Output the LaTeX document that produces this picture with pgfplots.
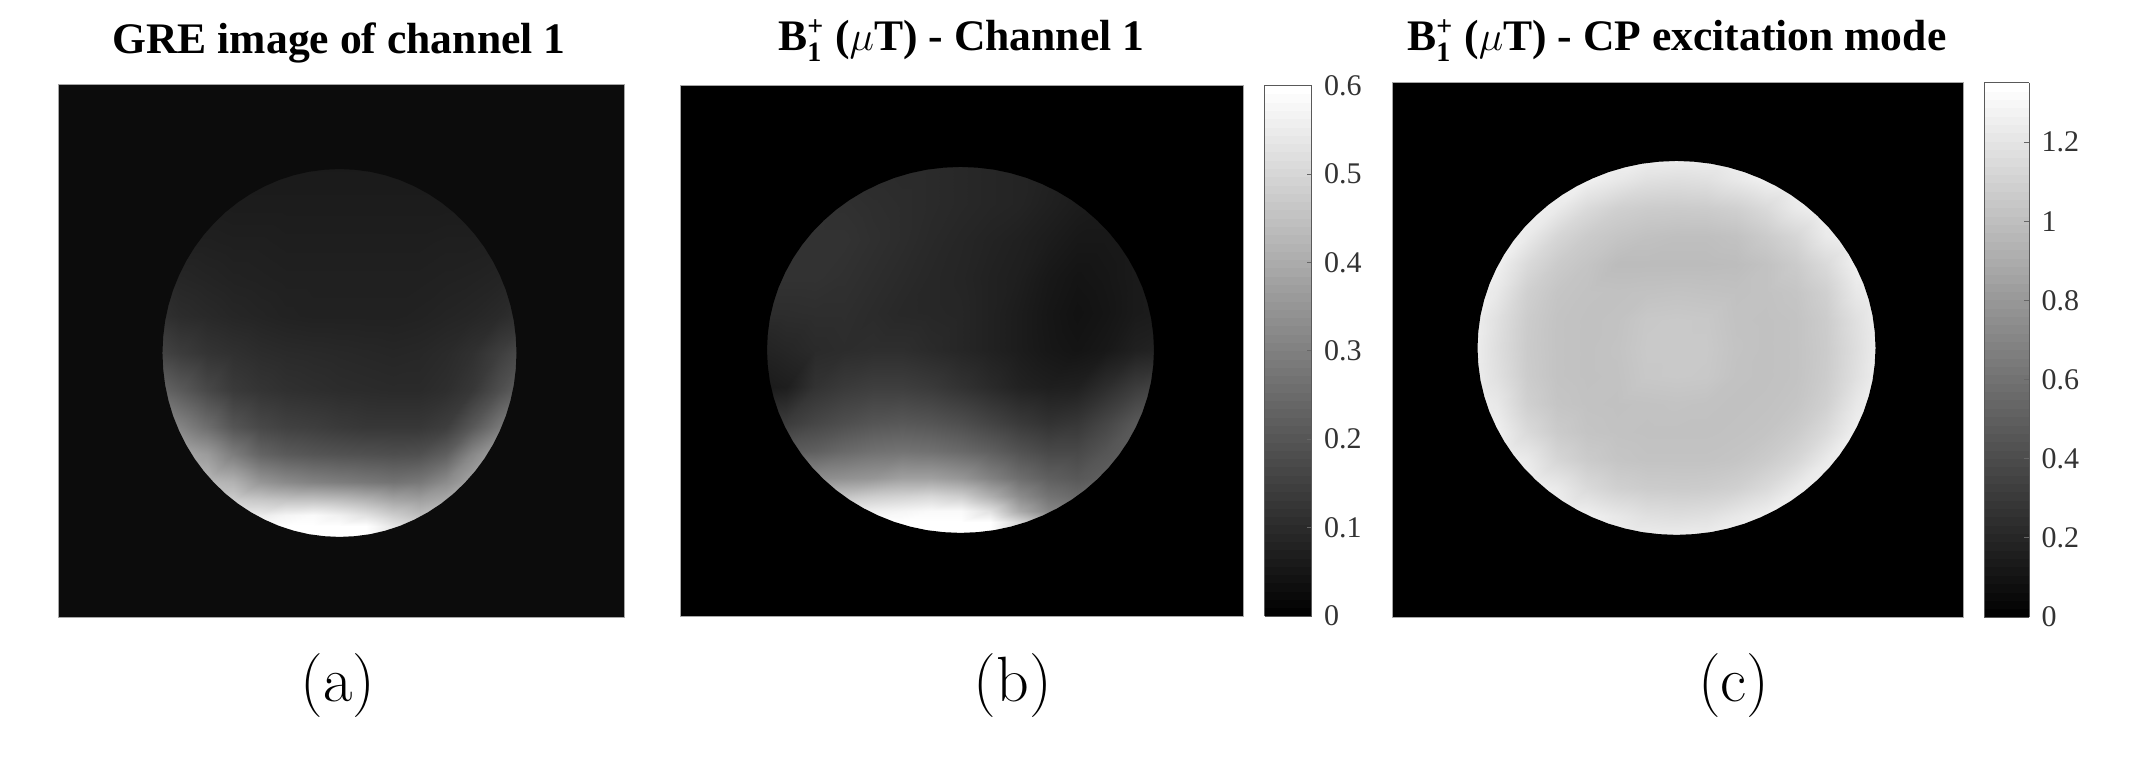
\documentclass[border=0pt]{standalone}
\usepackage{pgfplots}
\usepackage{pgfplotstable}
\usepackage{fontspec}
\pgfplotsset{compat=1.18}
\newfontfamily\cam{Liberation Serif}
\newcommand{\tb}[1]{\hbox{\fontsize{14}{14}\cam\bfseries #1}}
\pgfplotstableread[row sep=\\]{
x y\\
2 0\\ 2 2\\ -2 2\\ -2 -2\\ 2 -2\\ 2 0\\
1 0\\ .996 -.087\\ .985 -.174\\ .966 -.259\\ .94 -.342\\ .906 -.423\\ .866 -.5\\ .819 -.574\\ .766 -.643\\ .707 -.707\\ .643 -.766\\ .574 -.819\\ .5 -.866\\ .423 -.906\\ .342 -.94\\ .259 -.966\\ .174 -.985\\ .087 -.996\\
0 -1\\ -.087 -.996\\ -.174 -.985\\ -.259 -.966\\ -.342 -.94\\ -.423 -.906\\ -.5 -.866\\ -.574 -.819\\ -.643 -.766\\ -.707 -.707\\ -.766 -.643\\ -.819 -.574\\ -.866 -.5\\ -.906 -.423\\ -.94 -.342\\ -.966 -.259\\ -.985 -.174\\ -.996 -.087\\
-1 0\\ -.996 .087\\ -.985 .174\\ -.966 .259\\ -.94 .342\\ -.906 .423\\ -.866 .5\\ -.819 .574\\ -.766 .643\\ -.707 .707\\ -.643 .766\\ -.574 .819\\ -.5 .866\\ -.423 .906\\ -.342 .94\\ -.259 .966\\ -.174 .985\\ -.087 .996\\
0 1\\ .087 .996\\ .174 .985\\ .259 .966\\ .342 .94\\ .423 .906\\ .5 .866\\ .574 .819\\ .643 .766\\ .707 .707\\ .766 .643\\ .819 .574\\ .866 .5\\ .906 .423\\ .94 .342\\ .966 .259\\ .985 .174\\ .996 .087\\
1 0\\ 2 0\\
}\masktab
\pgfplotstableread[row sep=\\]{
x y v\\
-1.05 1.05 26\\ -.9 1.05 26\\ -.75 1.05 26\\ -.6 1.05 26\\ -.45 1.05 26\\ -.3 1.05 26\\ -.15 1.05 26\\ 0 1.05 26\\ .15 1.05 26\\ .3 1.05 26\\ .45 1.05 26\\ .6 1.05 26\\ .75 1.05 26\\ .9 1.05 26\\ 1.05 1.05 26\\
-1.05 .8 28\\ -.9 .8 28\\ -.75 .8 28\\ -.6 .8 28\\ -.45 .8 28\\ -.3 .8 28\\ -.15 .8 28\\ 0 .8 28\\ .15 .8 28\\ .3 .8 28\\ .45 .8 28\\ .6 .8 28\\ .75 .8 28\\ .9 .8 28\\ 1.05 .8 28\\
-1.05 .6 32\\ -.9 .6 32\\ -.75 .6 32\\ -.6 .6 31\\ -.45 .6 31\\ -.3 .6 30\\ -.15 .6 30\\ 0 .6 30\\ .15 .6 30\\ .3 .6 30\\ .45 .6 30\\ .6 .6 31\\ .75 .6 31\\ .9 .6 32\\ 1.05 .6 32\\
-1.05 .4 40\\ -.9 .4 38\\ -.75 .4 36\\ -.6 .4 34\\ -.45 .4 33\\ -.3 .4 32\\ -.15 .4 32\\ 0 .4 32\\ .15 .4 32\\ .3 .4 32\\ .45 .4 32\\ .6 .4 33\\ .75 .4 34\\ .9 .4 36\\ 1.05 .4 40\\
-1.05 .2 50\\ -.9 .2 44\\ -.75 .2 41\\ -.6 .2 38\\ -.45 .2 36\\ -.3 .2 34\\ -.15 .2 33\\ 0 .2 33\\ .15 .2 33\\ .3 .2 33\\ .45 .2 34\\ .6 .2 36\\ .75 .2 38\\ .9 .2 42\\ 1.05 .2 50\\
-1.05 0 70\\ -.9 0 60\\ -.75 0 52\\ -.6 0 48\\ -.45 0 44\\ -.3 0 42\\ -.15 0 41\\ 0 0 40\\ .15 0 39\\ .3 0 38\\ .45 0 39\\ .6 0 42\\ .75 0 48\\ .9 0 62\\ 1.05 0 78\\
-1.05 -.2 105\\ -.9 -.2 90\\ -.75 -.2 72\\ -.6 -.2 58\\ -.45 -.2 52\\ -.3 -.2 48\\ -.15 -.2 46\\ 0 -.2 44\\ .15 -.2 43\\ .3 -.2 42\\ .45 -.2 42\\ .6 -.2 46\\ .75 -.2 55\\ .9 -.2 78\\ 1.05 -.2 100\\
-1.05 -.4 150\\ -.9 -.4 132\\ -.75 -.4 110\\ -.6 -.4 85\\ -.45 -.4 72\\ -.3 -.4 65\\ -.15 -.4 62\\ 0 -.4 58\\ .15 -.4 55\\ .3 -.4 55\\ .45 -.4 55\\ .6 -.4 62\\ .75 -.4 88\\ .9 -.4 120\\ 1.05 -.4 145\\
-1.05 -.55 175\\ -.9 -.55 170\\ -.75 -.55 155\\ -.6 -.55 125\\ -.45 -.55 100\\ -.3 -.55 90\\ -.15 -.55 85\\ 0 -.55 82\\ .15 -.55 80\\ .3 -.55 78\\ .45 -.55 80\\ .6 -.55 95\\ .75 -.55 135\\ .9 -.55 165\\ 1.05 -.55 170\\
-1.05 -.7 190\\ -.9 -.7 190\\ -.75 -.7 185\\ -.6 -.7 178\\ -.45 -.7 150\\ -.3 -.7 138\\ -.15 -.7 130\\ 0 -.7 125\\ .15 -.7 120\\ .3 -.7 115\\ .45 -.7 120\\ .6 -.7 140\\ .75 -.7 165\\ .9 -.7 175\\ 1.05 -.7 175\\
-1.05 -.8 210\\ -.9 -.8 210\\ -.75 -.8 205\\ -.6 -.8 205\\ -.45 -.8 200\\ -.3 -.8 195\\ -.15 -.8 195\\ 0 -.8 190\\ .15 -.8 180\\ .3 -.8 165\\ .45 -.8 160\\ .6 -.8 170\\ .75 -.8 180\\ .9 -.8 185\\ 1.05 -.8 185\\
-1.05 -.88 235\\ -.9 -.88 235\\ -.75 -.88 235\\ -.6 -.88 235\\ -.45 -.88 235\\ -.3 -.88 245\\ -.15 -.88 250\\ 0 -.88 240\\ .15 -.88 225\\ .3 -.88 205\\ .45 -.88 190\\ .6 -.88 190\\ .75 -.88 190\\ .9 -.88 190\\ 1.05 -.88 190\\
-1.05 -.94 250\\ -.9 -.94 250\\ -.75 -.94 250\\ -.6 -.94 250\\ -.45 -.94 250\\ -.3 -.94 255\\ -.15 -.94 255\\ 0 -.94 255\\ .15 -.94 255\\ .3 -.94 230\\ .45 -.94 200\\ .6 -.94 200\\ .75 -.94 200\\ .9 -.94 200\\ 1.05 -.94 200\\
-1.05 -1 255\\ -.9 -1 255\\ -.75 -1 255\\ -.6 -1 255\\ -.45 -1 255\\ -.3 -1 255\\ -.15 -1 255\\ 0 -1 255\\ .15 -1 255\\ .3 -1 240\\ .45 -1 215\\ .6 -1 215\\ .75 -1 215\\ .9 -1 215\\ 1.05 -1 215\\
-1.05 -1.05 255\\ -.9 -1.05 255\\ -.75 -1.05 255\\ -.6 -1.05 255\\ -.45 -1.05 255\\ -.3 -1.05 255\\ -.15 -1.05 255\\ 0 -1.05 255\\ .15 -1.05 255\\ .3 -1.05 240\\ .45 -1.05 215\\ .6 -1.05 215\\ .75 -1.05 215\\ .9 -1.05 215\\ 1.05 -1.05 215\\
}\gridA
\pgfplotstableread[row sep=\\]{
x y v\\
-1.05 1.05 .099\\ -.9 1.05 .099\\ -.75 1.05 .099\\ -.6 1.05 .099\\ -.45 1.05 .099\\ -.3 1.05 .099\\ -.15 1.05 .099\\ 0 1.05 .094\\ .15 1.05 .089\\ .3 1.05 .085\\ .45 1.05 .08\\ .6 1.05 .071\\ .75 1.05 .066\\ .9 1.05 .061\\ 1.05 1.05 .061\\
-1.05 .8 .118\\ -.9 .8 .118\\ -.75 .8 .118\\ -.6 .8 .113\\ -.45 .8 .108\\ -.3 .8 .104\\ -.15 .8 .099\\ 0 .8 .094\\ .15 .8 .089\\ .3 .8 .085\\ .45 .8 .075\\ .6 .8 .066\\ .75 .8 .061\\ .9 .8 .061\\ 1.05 .8 .061\\
-1.05 .6 .118\\ -.9 .6 .118\\ -.75 .6 .118\\ -.6 .6 .118\\ -.45 .6 .111\\ -.3 .6 .104\\ -.15 .6 .096\\ 0 .6 .089\\ .15 .6 .082\\ .3 .6 .075\\ .45 .6 .066\\ .6 .6 .056\\ .75 .6 .056\\ .9 .6 .061\\ 1.05 .6 .066\\
-1.05 .4 .118\\ -.9 .4 .118\\ -.75 .4 .118\\ -.6 .4 .113\\ -.45 .4 .106\\ -.3 .4 .099\\ -.15 .4 .092\\ 0 .4 .087\\ .15 .4 .078\\ .3 .4 .071\\ .45 .4 .056\\ .6 .4 .047\\ .75 .4 .052\\ .9 .4 .061\\ 1.05 .4 .066\\
-1.05 .2 .106\\ -.9 .2 .106\\ -.75 .2 .108\\ -.6 .2 .108\\ -.45 .2 .101\\ -.3 .2 .094\\ -.15 .2 .092\\ 0 .2 .089\\ .15 .2 .078\\ .3 .2 .066\\ .45 .2 .052\\ .6 .2 .042\\ .75 .2 .049\\ .9 .2 .061\\ 1.05 .2 .066\\
-1.05 0 .08\\ -.9 0 .089\\ -.75 0 .099\\ -.6 0 .104\\ -.45 0 .108\\ -.3 0 .108\\ -.15 0 .099\\ 0 0 .089\\ .15 0 .078\\ .3 0 .066\\ .45 0 .054\\ .6 0 .047\\ .75 0 .056\\ .9 0 .075\\ 1.05 0 .085\\
-1.05 -.2 .059\\ -.9 -.2 .07\\ -.75 -.2 .118\\ -.6 -.2 .136\\ -.45 -.2 .146\\ -.3 -.2 .146\\ -.15 -.2 .136\\ 0 -.2 .118\\ .15 -.2 .099\\ .3 -.2 .08\\ .45 -.2 .071\\ .6 -.2 .075\\ .75 -.2 .106\\ .9 -.2 .141\\ 1.05 -.2 .165\\
-1.05 -.4 .129\\ -.9 -.4 .14\\ -.75 -.4 .165\\ -.6 -.4 .184\\ -.45 -.4 .2\\ -.3 -.4 .207\\ -.15 -.4 .2\\ 0 -.4 .184\\ .15 -.4 .16\\ .3 -.4 .136\\ .45 -.4 .118\\ .6 -.4 .129\\ .75 -.4 .165\\ .9 -.4 .207\\ 1.05 -.4 .224\\
-1.05 -.55 .2\\ -.9 -.55 .21\\ -.75 -.55 .224\\ -.6 -.55 .247\\ -.45 -.55 .264\\ -.3 -.55 .271\\ -.15 -.55 .264\\ 0 -.55 .247\\ .15 -.55 .224\\ .3 -.55 .193\\ .45 -.55 .169\\ .6 -.55 .169\\ .75 -.55 .2\\ .9 -.55 .224\\ 1.05 -.55 .235\\
-1.05 -.7 .32\\ -.9 -.7 .33\\ -.75 -.7 .33\\ -.6 -.7 .341\\ -.45 -.7 .353\\ -.3 -.7 .376\\ -.15 -.7 .376\\ 0 -.7 .353\\ .15 -.7 .306\\ .3 -.7 .259\\ .45 -.7 .224\\ .6 -.7 .207\\ .75 -.7 .224\\ .9 -.7 .24\\ 1.05 -.7 .25\\
-1.05 -.8 .45\\ -.9 -.8 .45\\ -.75 -.8 .45\\ -.6 -.8 .459\\ -.45 -.8 .482\\ -.3 -.8 .494\\ -.15 -.8 .506\\ 0 -.8 .482\\ .15 -.8 .412\\ .3 -.8 .329\\ .45 -.8 .271\\ .6 -.8 .247\\ .75 -.8 .25\\ .9 -.8 .26\\ 1.05 -.8 .26\\
-1.05 -.88 .55\\ -.9 -.88 .55\\ -.75 -.88 .55\\ -.6 -.88 .55\\ -.45 -.88 .565\\ -.3 -.88 .576\\ -.15 -.88 .588\\ 0 -.88 .588\\ .15 -.88 .529\\ .3 -.88 .4\\ .45 -.88 .318\\ .6 -.88 .28\\ .75 -.88 .28\\ .9 -.88 .28\\ 1.05 -.88 .28\\
-1.05 -.94 .6\\ -.9 -.94 .6\\ -.75 -.94 .6\\ -.6 -.94 .6\\ -.45 -.94 .6\\ -.3 -.94 .6\\ -.15 -.94 .6\\ 0 -.94 .6\\ .15 -.94 .6\\ .3 -.94 .506\\ .45 -.94 .4\\ .6 -.94 .33\\ .75 -.94 .33\\ .9 -.94 .33\\ 1.05 -.94 .33\\
-1.05 -1 .6\\ -.9 -1 .6\\ -.75 -1 .6\\ -.6 -1 .6\\ -.45 -1 .6\\ -.3 -1 .6\\ -.15 -1 .6\\ 0 -1 .6\\ .15 -1 .6\\ .3 -1 .565\\ .45 -1 .45\\ .6 -1 .38\\ .75 -1 .38\\ .9 -1 .38\\ 1.05 -1 .38\\
-1.05 -1.05 .6\\ -.9 -1.05 .6\\ -.75 -1.05 .6\\ -.6 -1.05 .6\\ -.45 -1.05 .6\\ -.3 -1.05 .6\\ -.15 -1.05 .6\\ 0 -1.05 .6\\ .15 -1.05 .6\\ .3 -1.05 .565\\ .45 -1.05 .45\\ .6 -1.05 .38\\ .75 -1.05 .38\\ .9 -1.05 .38\\ 1.05 -1.05 .38\\
}\gridB
\pgfplotstableread[row sep=\\]{
x y v\\
-1.05 1.05 1.281\\ -.9 1.05 1.281\\ -.75 1.05 1.281\\ -.6 1.05 1.281\\ -.45 1.05 1.281\\ -.3 1.05 1.281\\ -.15 1.05 1.281\\ 0 1.05 1.281\\ .15 1.05 1.281\\ .3 1.05 1.281\\ .45 1.05 1.281\\ .6 1.05 1.281\\ .75 1.05 1.281\\ .9 1.05 1.281\\ 1.05 1.05 1.281\\
-1.05 .9 1.281\\ -.9 .9 1.281\\ -.75 .9 1.281\\ -.6 .9 1.281\\ -.45 .9 1.271\\ -.3 .9 1.228\\ -.15 .9 1.186\\ 0 .9 1.175\\ .15 .9 1.186\\ .3 .9 1.228\\ .45 .9 1.271\\ .6 .9 1.281\\ .75 .9 1.281\\ .9 .9 1.281\\ 1.05 .9 1.281\\
-1.05 .75 1.281\\ -.9 .75 1.281\\ -.75 .75 1.281\\ -.6 .75 1.239\\ -.45 .75 1.154\\ -.3 .75 1.101\\ -.15 .75 1.08\\ 0 .75 1.075\\ .15 .75 1.08\\ .3 .75 1.101\\ .45 .75 1.154\\ .6 .75 1.239\\ .75 .75 1.281\\ .9 .75 1.281\\ 1.05 .75 1.281\\
-1.05 .6 1.281\\ -.9 .6 1.281\\ -.75 .6 1.239\\ -.6 .6 1.133\\ -.45 .6 1.075\\ -.3 .6 1.043\\ -.15 .6 1.022\\ 0 .6 1.012\\ .15 .6 1.012\\ .3 .6 1.027\\ .45 .6 1.075\\ .6 .6 1.133\\ .75 .6 1.239\\ .9 .6 1.281\\ 1.05 .6 1.281\\
-1.05 .45 1.281\\ -.9 .45 1.271\\ -.75 .45 1.154\\ -.6 .45 1.075\\ -.45 .45 1.038\\ -.3 .45 .995\\ -.15 .45 .995\\ 0 .45 .995\\ .15 .45 .995\\ .3 .45 1.0\\ .45 .45 1.027\\ .6 .45 1.075\\ .75 .45 1.154\\ .9 .45 1.271\\ 1.05 .45 1.281\\
-1.05 .3 1.281\\ -.9 .3 1.228\\ -.75 .3 1.101\\ -.6 .3 1.043\\ -.45 .3 1.027\\ -.3 .3 1.022\\ -.15 .3 1.027\\ 0 .3 1.032\\ .15 .3 1.027\\ .3 .3 1.022\\ .45 .3 1.027\\ .6 .3 1.043\\ .75 .3 1.101\\ .9 .3 1.228\\ 1.05 .3 1.281\\
-1.05 .15 1.281\\ -.9 .15 1.186\\ -.75 .15 1.08\\ -.6 .15 1.032\\ -.45 .15 1.022\\ -.3 .15 1.027\\ -.15 .15 1.059\\ 0 .15 1.064\\ .15 .15 1.059\\ .3 .15 1.027\\ .45 .15 1.022\\ .6 .15 1.032\\ .75 .15 1.08\\ .9 .15 1.186\\ 1.05 .15 1.281\\
-1.05 0 1.281\\ -.9 0 1.175\\ -.75 0 1.075\\ -.6 0 1.032\\ -.45 0 1.022\\ -.3 0 1.032\\ -.15 0 1.064\\ 0 0 1.064\\ .15 0 1.064\\ .3 0 1.032\\ .45 0 1.022\\ .6 0 1.032\\ .75 0 1.075\\ .9 0 1.175\\ 1.05 0 1.281\\
-1.05 -.15 1.281\\ -.9 -.15 1.186\\ -.75 -.15 1.08\\ -.6 -.15 1.032\\ -.45 -.15 1.022\\ -.3 -.15 1.027\\ -.15 -.15 1.059\\ 0 -.15 1.064\\ .15 -.15 1.059\\ .3 -.15 1.027\\ .45 -.15 1.022\\ .6 -.15 1.032\\ .75 -.15 1.08\\ .9 -.15 1.186\\ 1.05 -.15 1.281\\
-1.05 -.3 1.281\\ -.9 -.3 1.228\\ -.75 -.3 1.101\\ -.6 -.3 1.043\\ -.45 -.3 1.027\\ -.3 -.3 1.022\\ -.15 -.3 1.027\\ 0 -.3 1.032\\ .15 -.3 1.027\\ .3 -.3 1.022\\ .45 -.3 1.027\\ .6 -.3 1.043\\ .75 -.3 1.101\\ .9 -.3 1.228\\ 1.05 -.3 1.281\\
-1.05 -.45 1.281\\ -.9 -.45 1.271\\ -.75 -.45 1.154\\ -.6 -.45 1.075\\ -.45 -.45 1.038\\ -.3 -.45 1.027\\ -.15 -.45 1.022\\ 0 -.45 1.022\\ .15 -.45 1.022\\ .3 -.45 1.027\\ .45 -.45 1.038\\ .6 -.45 1.075\\ .75 -.45 1.154\\ .9 -.45 1.271\\ 1.05 -.45 1.281\\
-1.05 -.6 1.281\\ -.9 -.6 1.281\\ -.75 -.6 1.239\\ -.6 -.6 1.133\\ -.45 -.6 1.075\\ -.3 -.6 1.043\\ -.15 -.6 1.032\\ 0 -.6 1.032\\ .15 -.6 1.032\\ .3 -.6 1.043\\ .45 -.6 1.075\\ .6 -.6 1.133\\ .75 -.6 1.239\\ .9 -.6 1.281\\ 1.05 -.6 1.281\\
-1.05 -.75 1.281\\ -.9 -.75 1.281\\ -.75 -.75 1.281\\ -.6 -.75 1.239\\ -.45 -.75 1.154\\ -.3 -.75 1.101\\ -.15 -.75 1.08\\ 0 -.75 1.075\\ .15 -.75 1.08\\ .3 -.75 1.101\\ .45 -.75 1.154\\ .6 -.75 1.239\\ .75 -.75 1.281\\ .9 -.75 1.281\\ 1.05 -.75 1.281\\
-1.05 -.9 1.281\\ -.9 -.9 1.281\\ -.75 -.9 1.281\\ -.6 -.9 1.281\\ -.45 -.9 1.271\\ -.3 -.9 1.228\\ -.15 -.9 1.186\\ 0 -.9 1.175\\ .15 -.9 1.186\\ .3 -.9 1.228\\ .45 -.9 1.271\\ .6 -.9 1.281\\ .75 -.9 1.281\\ .9 -.9 1.281\\ 1.05 -.9 1.281\\
-1.05 -1.05 1.281\\ -.9 -1.05 1.281\\ -.75 -1.05 1.281\\ -.6 -1.05 1.281\\ -.45 -1.05 1.281\\ -.3 -1.05 1.281\\ -.15 -1.05 1.281\\ 0 -1.05 1.281\\ .15 -1.05 1.281\\ .3 -1.05 1.281\\ .45 -1.05 1.281\\ .6 -1.05 1.281\\ .75 -1.05 1.281\\ .9 -1.05 1.281\\ 1.05 -1.05 1.281\\
}\gridC
\pgfplotsset{
  panel/.style={
    scale only axis, enlargelimits=false, axis on top,
    xtick=\empty, ytick=\empty,
    axis line style={gray!70, line width=0.4pt},
    colormap/blackwhite,
    title style={anchor=base, yshift=0pt, font=\fontsize{21.8}{21.8}\cam\bfseries, inner sep=0pt},
    xlabel style={anchor=center, font=\fontsize{32}{32}\selectfont, inner sep=0pt},
  },
  bar/.style={
    colorbar sampled,
    colorbar style={
      samples=65,
      ytick pos=right, yticklabel pos=right, tick align=inside,
      major tick length=2.5pt, tick style={gray!80!black, line width=0.4pt},
      axis line style={gray!70!black, line width=0.4pt},
      yticklabel style={font=\fontsize{15}{15}\cam, text=black!80, inner xsep=0pt, xshift=6pt},
      #1,
    },
  },
}
\begin{document}
\begin{tikzpicture}
\useasboundingbox (0,0) rectangle (1068pt,379pt);
\begin{axis}[panel, at={(29pt,70.15pt)}, anchor=south west, width=283.25pt, height=266.55pt,
  xmin=-1.59, xmax=1.61, ymin=-1.439, ymax=1.459, point meta min=0, point meta max=255,
  title={GRE image of channel 1}, title style={at={(0.496,1.035)}},
  xlabel={(a)}, xlabel style={at={(0.494,-0.128)}}]
\addplot[surf, shader=interp, mesh/cols=15, point meta=explicit] table[x=x,y=y,meta=v] {\gridA};
\addplot[fill={rgb,255:red,12;green,12;blue,12}, draw=none, no markers] table[x=x,y=y] {\masktab};
\end{axis}
\begin{axis}[panel, at={(340.25pt,71pt)}, anchor=south west, width=281.25pt, height=265.25pt,
  xmin=-1.447, xmax=1.46, ymin=-1.454, ymax=1.445, point meta min=0, point meta max=0.6,
  title={B$^{\tb{+}}_{\tb{1}}$ ($\mu$T) - Channel 1}, title style={at={(0.499,1.0426)}},
  xlabel={(b)}, xlabel style={at={(0.591,-0.132)}},
  bar={width=23.5pt, xshift=2.15pt, ytick={0,0.1,0.2,0.3,0.4,0.5,0.6}, yticklabels={0,0.1,0.2,0.3,0.4,0.5,0.6}}]
\addplot[surf, shader=interp, mesh/cols=15, point meta=explicit] table[x=x,y=y,meta=v] {\gridB};
\addplot[fill=black, draw=none, no markers] table[x=x,y=y] {\masktab};
\end{axis}
\begin{axis}[panel, at={(696.25pt,70.5pt)}, anchor=south west, width=285.5pt, height=267.2pt,
  xmin=-1.427, xmax=1.442, ymin=-1.439, ymax=1.419, point meta min=0, point meta max=1.35,
  title={B$^{\tb{+}}_{\tb{1}}$ ($\mu$T) - CP excitation mode}, title style={at={(0.498,1.0367)}},
  xlabel={(c)}, xlabel style={at={(0.598,-0.129)}},
  bar={width=22.5pt, xshift=1.65pt, ytick={0,0.2,0.4,0.6,0.8,1,1.2}, yticklabels={0,0.2,0.4,0.6,0.8,1,1.2}}]
\addplot[surf, shader=interp, mesh/cols=15, point meta=explicit] table[x=x,y=y,meta=v] {\gridC};
\addplot[fill=black, draw=none, no markers] table[x=x,y=y] {\masktab};
\end{axis}
\end{tikzpicture}
\end{document}
